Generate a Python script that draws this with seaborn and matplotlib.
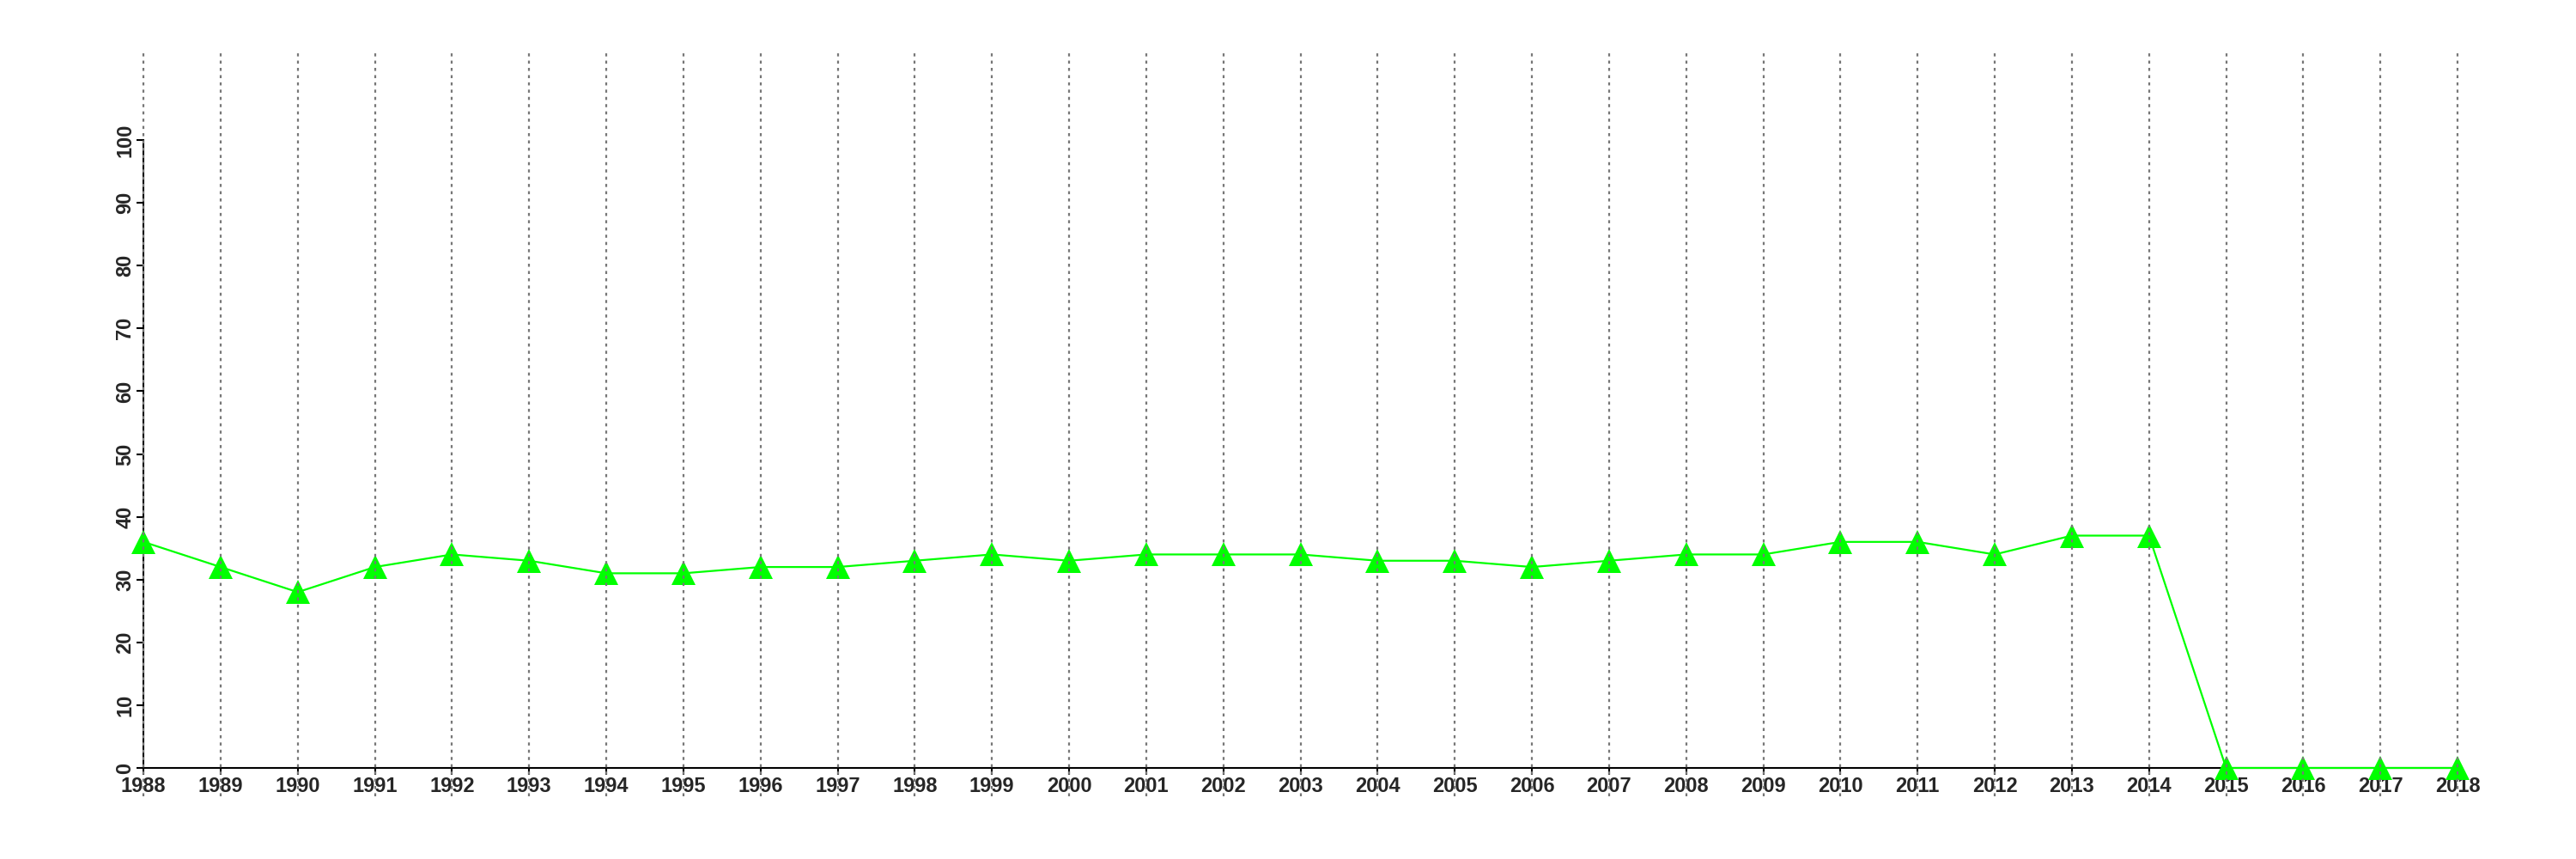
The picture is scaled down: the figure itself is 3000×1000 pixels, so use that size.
import pandas as pd
import seaborn as sns
import matplotlib.pyplot as plt

years = list(range(1988, 2019))
values = [36, 32, 28, 32, 34, 33, 31, 31, 32, 32,
          33, 34, 33, 34, 34, 34, 33, 33, 32, 33,
          34, 34, 36, 36, 34, 37, 37, 0, 0, 0, 0]
y_ticks = list(range(0, 101, 10))

df = pd.DataFrame({'year': years, 'value': values})

sns.set_style('ticks')
plt.rcParams['font.family'] = ['Liberation Sans', 'DejaVu Sans']
plt.rcParams['font.weight'] = 'bold'

fig = plt.figure(figsize=(30, 10), dpi=100)
ax = fig.add_axes([0.0557, 0.106, 0.8983, 0.731])

sns.lineplot(x='year', y='value', data=df, ax=ax, color='#00ff00',
             linewidth=1.6, marker='^', markersize=20,
             markeredgewidth=0, clip_on=False, zorder=3)

ax.set_xlim(1988, 2018)
ax.set_ylim(0, 100)
ax.set_xticks(years)
ax.set_xticklabels([str(y) for y in years], fontsize=17, fontweight='bold')
ax.set_yticks(y_ticks)
ax.set_yticklabels([str(v) for v in y_ticks], fontsize=17, fontweight='bold',
                   rotation=90, va='center')
ax.set_xlabel('')
ax.set_ylabel('')

# dotted year guides reaching past the plot area
for y in years:
    ax.axvline(y, ymin=-0.045, ymax=1.141, color='#777777', linewidth=1.6,
               linestyle=(0, (1.6, 2.2)), clip_on=False, zorder=5)

sns.despine(ax=ax)
for side in ['left', 'bottom']:
    ax.spines[side].set_linewidth(1.5)
    ax.spines[side].set_color('black')
ax.tick_params(axis='both', length=6, width=1.5, color='black', pad=1)

fig.savefig('out.png', dpi=100)
